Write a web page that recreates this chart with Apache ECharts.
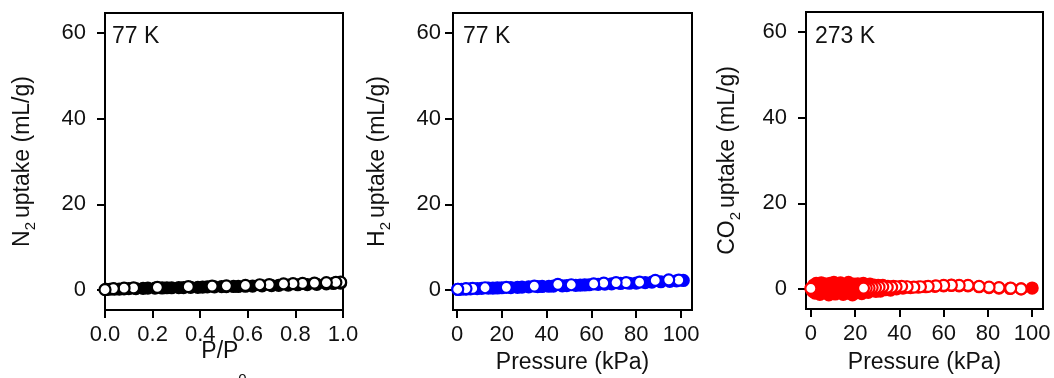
<!DOCTYPE html>
<html>
<head>
<meta charset="utf-8">
<style>
  html, body { margin: 0; padding: 0; background: #fff; }
  #chart { width: 1054px; height: 378px; }
</style>
<script src="https://cdn.jsdelivr.net/npm/echarts@6/dist/echarts.min.js"></script>
</head>
<body>
<div id="chart"></div>
<script>
// ---- Isotherm data: [pressure, uptake (mL/g)] ----
// N2 at 77 K, pressure as P/P0
const n2Adsorption = [[0.005,0.1],[0.02,0.15],[0.04,0.2],[0.06,0.2],[0.08,0.25],[0.10,0.3],[0.13,0.3],[0.16,0.35],[0.18,0.4],[0.21,0.4],[0.24,0.45],[0.26,0.5],[0.28,0.5],[0.31,0.55],[0.33,0.55],[0.36,0.6],[0.39,0.6],[0.41,0.65],[0.43,0.7],[0.46,0.7],[0.49,0.75],[0.51,0.75],[0.54,0.8],[0.56,0.8],[0.59,0.85],[0.62,0.9],[0.66,0.95],[0.70,1.0],[0.73,1.05],[0.77,1.1],[0.81,1.2],[0.85,1.25],[0.89,1.3],[0.93,1.4],[0.96,1.5],[0.99,1.6]];
const n2Desorption = [[0.99,1.8],[0.97,1.75],[0.93,1.7],[0.88,1.6],[0.83,1.5],[0.79,1.45],[0.75,1.4],[0.69,1.25],[0.65,1.2],[0.59,1.05],[0.51,0.95],[0.45,0.9],[0.35,0.75],[0.22,0.6],[0.12,0.45],[0.08,0.4],[0.035,0.3],[0.0,0.05]];

// H2 at 77 K, pressure in kPa
const h2Adsorption = [[0.5,0.1],[2,0.15],[4,0.2],[6,0.25],[9,0.3],[11,0.35],[14,0.4],[16,0.4],[18,0.45],[20,0.5],[24,0.55],[27,0.6],[29,0.65],[32,0.7],[36,0.75],[38,0.8],[41,0.85],[43,0.9],[47,0.95],[49,1.0],[53,1.05],[55,1.1],[57,1.15],[59,1.2],[63,1.3],[66,1.35],[69,1.4],[73,1.5],[77,1.55],[80,1.6],[84,1.7],[87,1.8],[91,1.9],[95,2.0],[98,2.1],[101,2.2]];
const h2Desorption = [[99,2.3],[94.5,2.35],[88.5,2.2],[81.5,1.8],[75.5,1.7],[71,1.7],[65.5,1.6],[61,1.4],[51,1.2],[45,1.3],[34.5,0.9],[22,0.6],[12.5,0.5],[7,0.35],[4,0.3],[0.3,0.15]];

// CO2 at 273 K, pressure in kPa
const co2Adsorption = [[0.3,0.2],[0.8,-0.6],[1.3,0.9],[1.9,-1.0],[2.4,1.3],[3.0,-0.3],[3.5,0.7],[4.1,-1.3],[4.7,1.4],[5.2,0.1],[5.8,-0.9],[6.4,1.2],[7.0,-0.4],[7.5,0.6],[8.1,-1.4],[8.7,1.3],[9.3,0.0],[9.9,-0.8],[10.4,1.5],[11.0,-1.2],[11.6,0.4],[12.2,1.0],[12.8,-0.9],[13.4,1.4],[14.0,-0.3],[14.6,-1.3],[15.2,0.8],[15.8,0.2],[16.4,-1.0],[17.0,1.5],[17.6,-0.6],[18.2,0.7],[18.8,-1.4],[19.4,1.1],[20.0,0.1],[20.6,-0.9],[21.2,1.2],[21.8,-0.4],[22.4,0.5],[23.0,-1.1],[23.7,1.3],[24.4,-0.2],[25.1,0.9],[25.9,-0.8],[26.7,1.1],[27.6,-0.4],[28.5,0.9],[29.4,-0.6],[30.4,0.8],[31.4,-0.5],[32.5,0.8],[33.6,-0.2],[34.8,0.6],[36.0,-0.3],[37.3,0.6],[38.7,0.0],[40.1,0.5],[41.6,0.2],[43.2,0.4],[45.0,0.3],[48.5,0.4],[52.0,0.5],[56.0,0.6],[60.0,0.7],[63.5,0.8],[67.0,0.7],[71.0,0.7],[76.0,0.5],[80.5,0.3],[85.0,0.2],[90.0,0.1],[95.0,0.0],[100.0,0.2]];
const co2Desorption = [[95,0.0],[90.3,0.2],[85,0.3],[80.5,0.4],[76,0.6],[71,0.8],[67,0.8],[63.5,0.9],[60,0.8],[56.5,0.7],[53,0.6],[49.5,0.5],[46.5,0.4],[43.5,0.5],[41,0.6],[38.5,0.5],[36.5,0.4],[34.5,0.4],[32.5,0.5],[30.8,0.4],[29.2,0.3],[27.7,0.3],[26.3,0.2],[25,0.2],[23.8,0.2],[0,0.1]];

// Axis ticks
const uptakeTicks = [0, 20, 40, 60];
const ratioTicks = [0, 0.2, 0.4, 0.6, 0.8, 1.0];
const kpaTicks = [0, 20, 40, 60, 80, 100];

const FONT = '"Liberation Sans", Arial, sans-serif';
const TXT = '#111';

// n: normal text, s: subscript pushed down with top padding, d: deeper subscript
const nameRich = {
  n: { fontSize: 23, fontFamily: FONT, color: TXT },
  s: { fontSize: 15, padding: [16, 4, 0, 0], fontFamily: FONT, color: TXT },
  d: { fontSize: 15, padding: [56, 0, 0, 0], fontFamily: FONT, color: TXT }
};

const grids = [
  { left: 105, top: 13, width: 238, height: 297 },
  { left: 453, top: 13, width: 239, height: 297 },
  { left: 806, top: 12, width: 237, height: 297 }
];

function xAxis(i, min, max, ticks, fmt, name, gap) {
  return {
    gridIndex: i, type: 'value', min: min, max: max,
    axisLine: { show: true, onZero: false, lineStyle: { color: '#000', width: 2 } },
    axisTick: { show: true, inside: false, length: 8, customValues: ticks, lineStyle: { color: '#000', width: 2 } },
    axisLabel: { customValues: ticks, margin: 14, fontSize: 22, fontFamily: FONT, color: TXT, formatter: fmt },
    splitLine: { show: false },
    name: name, nameLocation: 'middle', nameGap: gap, nameMoveOverlap: false,
    nameTextStyle: { rich: nameRich }
  };
}

function yAxis(i, labelMargin, name, gap) {
  return {
    gridIndex: i, type: 'value', min: -4.7, max: 64.7,
    axisLine: { show: true, onZero: false, lineStyle: { color: '#000', width: 2 } },
    axisTick: { show: true, inside: false, length: 8, customValues: uptakeTicks, lineStyle: { color: '#000', width: 2 } },
    axisLabel: { customValues: uptakeTicks, margin: labelMargin, fontSize: 22, fontFamily: FONT, color: TXT },
    splitLine: { show: false },
    name: name, nameLocation: 'middle', nameGap: gap, nameMoveOverlap: false,
    nameTextStyle: { rich: nameRich }
  };
}

function scatter(i, data, color, open) {
  return {
    type: 'scatter', xAxisIndex: i, yAxisIndex: i, data: data,
    symbol: 'circle', symbolSize: 11, clip: false, silent: true,
    itemStyle: { color: open ? '#fff' : color, borderColor: color, borderWidth: 2.2, opacity: 1 }
  };
}

const option = {
  animation: false,
  backgroundColor: '#fff',
  grid: grids.map(g => Object.assign({
    show: true, borderColor: '#000', borderWidth: 2, backgroundColor: '#fff',
    containLabel: false, outerBoundsMode: 'none'
  }, g)),
  xAxis: [
    xAxis(0, 0, 1, ratioTicks, v => v.toFixed(1), '{n|P/P}{d|0}', 6),
    xAxis(1, -1.8, 104.9, kpaTicks, v => String(v), '{n|Pressure (kPa)}', 41),
    xAxis(2, -2.2, 104.9, kpaTicks, v => String(v), '{n|Pressure (kPa)}', 42)
  ],
  yAxis: [
    yAxis(0, 19, '{n|N}{s|2}{n|uptake (mL/g)}', 67),
    yAxis(1, 12, '{n|H}{s|2}{n|uptake (mL/g)}', 60),
    yAxis(2, 19, '{n|CO}{s|2}{n|uptake (mL/g)}', 63)
  ],
  graphic: [
    { type: 'text', left: 112, top: 25, style: { text: '77 K', font: '23px ' + FONT, fill: TXT } },
    { type: 'text', left: 463, top: 25, style: { text: '77 K', font: '23px ' + FONT, fill: TXT } },
    { type: 'text', left: 815, top: 25, style: { text: '273 K', font: '23px ' + FONT, fill: TXT } }
  ],
  series: [
    scatter(0, n2Adsorption, '#000', false),
    scatter(0, n2Desorption, '#000', true),
    scatter(1, h2Adsorption, '#0000ff', false),
    scatter(1, h2Desorption, '#0000ff', true),
    scatter(2, co2Adsorption, '#ff0000', false),
    scatter(2, co2Desorption, '#ff0000', true)
  ]
};

const chart = echarts.init(document.getElementById('chart'), null, { renderer: 'canvas' });
chart.setOption(option);
</script>
</body>
</html>
